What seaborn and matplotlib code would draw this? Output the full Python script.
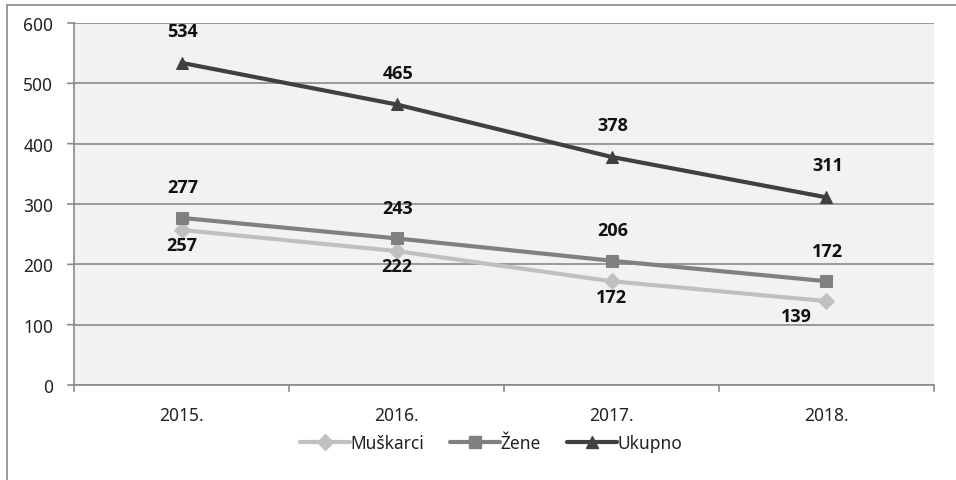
import matplotlib
matplotlib.use("Agg")
import matplotlib.pyplot as plt
import seaborn as sns
import pandas as pd
from matplotlib.lines import Line2D

years = ["2015.", "2016.", "2017.", "2018."]
muskarci = [257, 222, 172, 139]
zene = [277, 243, 206, 172]
ukupno = [534, 465, 378, 311]
series_names = ["Muškarci", "Žene", "Ukupno"]
yticks = [0, 100, 200, 300, 400, 500, 600]

sns.set_theme(style="white")
plt.rcParams["font.family"] = ["Noto Sans", "DejaVu Sans"]

rows = []
for name, vals in zip(series_names, [muskarci, zene, ukupno]):
    for i, v in enumerate(vals):
        rows.append({"x": i, "year": years[i], "value": v, "series": name})
df = pd.DataFrame(rows)

colors = {"Muškarci": "#c0c0c0", "Žene": "#808080", "Ukupno": "#404040"}
markers = {"Muškarci": "D", "Žene": "s", "Ukupno": "^"}

fig = plt.figure(figsize=(9.56, 4.81), dpi=100)
ax = fig.add_axes([74 / 956, 95 / 481, 860 / 956, 362 / 481])
ax.set_facecolor("#f2f2f2")

for name in series_names:
    sub = df[df["series"] == name]
    sns.lineplot(data=sub, x="x", y="value", ax=ax, color=colors[name],
                 marker=markers[name], markersize=9 if name != "Muškarci" else 8,
                 markeredgecolor=colors[name], linewidth=3, label=name,
                 legend=False, zorder=3)

ax.set_xlim(-0.5, 3.5)
ax.set_ylim(0, 600)
ax.set_yticks(yticks)
ax.set_yticklabels([str(t) for t in yticks], fontsize=12.5, color="#222222")
ax.set_xticks(range(len(years)))
ax.set_xticklabels(years, fontsize=12.5, color="#222222")
ax.tick_params(axis="x", length=0, pad=15)
ax.tick_params(axis="y", length=0, pad=15)
ax.set_xlabel("")
ax.set_ylabel("")
ax.yaxis.grid(True, color="#8a8a8a", linewidth=1.2)
ax.xaxis.grid(False)
ax.set_axisbelow(True)
for s in ["top", "right"]:
    ax.spines[s].set_visible(False)
for s in ["left", "bottom"]:
    ax.spines[s].set_color("#8a8a8a")
    ax.spines[s].set_linewidth(1.2)

# Excel-style tick marks at category boundaries and y ticks
for b in [-0.5, 0.5, 1.5, 2.5, 3.5]:
    ax.annotate("", xy=(b, 0), xycoords=("data", "axes fraction"),
                xytext=(0, -4.5), textcoords="offset points",
                arrowprops=dict(arrowstyle="-", color="#8a8a8a", lw=1.2,
                                shrinkA=0, shrinkB=0))
for t in yticks:
    ax.annotate("", xy=(0, t), xycoords=("axes fraction", "data"),
                xytext=(-4.5, 0), textcoords="offset points",
                arrowprops=dict(arrowstyle="-", color="#8a8a8a", lw=1.2,
                                shrinkA=0, shrinkB=0))

# data labels
lab_kw = dict(fontsize=13, fontweight="bold", color="#111111",
              ha="center", va="center", textcoords="offset points",
              family=["Open Sans", "DejaVu Sans"])
for i, v in enumerate(ukupno):
    ax.annotate(str(v), (i, v), xytext=(1, 23), **lab_kw)
for i, v in enumerate(zene):
    ax.annotate(str(v), (i, v), xytext=(1, 22), **lab_kw)
for i, v in enumerate(muskarci):
    dx = -22 if i == 3 else 0
    dy = -11 if i != 3 else -11
    ax.annotate(str(v), (i, v), xytext=(dx, dy), **lab_kw)

handles = [Line2D([0], [0], color=colors[n], marker=markers[n], lw=3,
                  markersize=8, markeredgecolor=colors[n]) for n in series_names]
fig.legend(handles, series_names, loc="center", bbox_to_anchor=(491 / 956, 1 - 444 / 481),
           ncol=3, frameon=False, fontsize=12.5, handlelength=2.9,
           handletextpad=0.0, columnspacing=1.5, labelcolor="#222222")

# outer frame lines (chart border)
fig.add_artist(Line2D([7 / 956, 7 / 956], [0, 1 - 6 / 481], color="#8a8a8a", lw=1.2,
                      transform=fig.transFigure))
fig.add_artist(Line2D([7 / 956, 1], [1 - 6 / 481, 1 - 6 / 481], color="#8a8a8a", lw=1.2,
                      transform=fig.transFigure))

fig.savefig("out.png", dpi=100, facecolor="white")
